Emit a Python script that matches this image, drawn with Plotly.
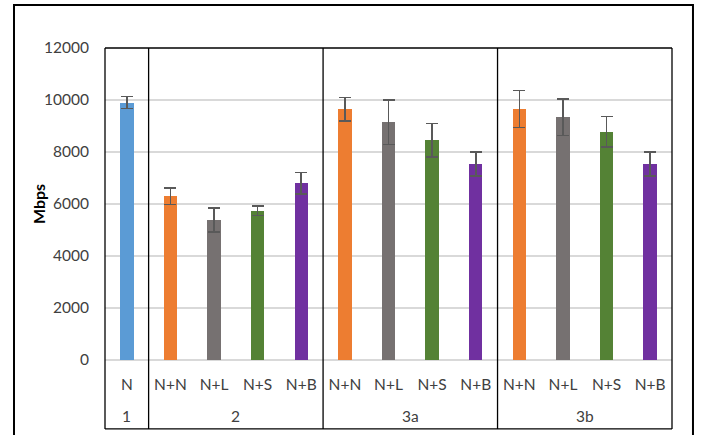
import plotly.graph_objects as go

# ---- data ----
groups = ["1", "2", "3a", "3b"]
group_labels = [["N"], ["N+N", "N+L", "N+S", "N+B"], ["N+N", "N+L", "N+S", "N+B"], ["N+N", "N+L", "N+S", "N+B"]]
group_values = [[9900], [6290, 5390, 5740, 6800], [9640, 9150, 8450, 7540], [9650, 9330, 8780, 7540]]
group_errors = [[230], [315, 465, 180, 410], [455, 860, 645, 465], [715, 700, 590, 465]]
label_colors = {"N": "#5B9BD5", "N+N": "#ED7D31", "N+L": "#767171", "N+S": "#548235", "N+B": "#7030A0"}
y_ticks = [0, 2000, 4000, 6000, 8000, 10000, 12000]
y_ticktext = ["0", "2000", "4000", "6000", "8000", "10000", "12000"]
y_title = "Mbps"

# ---- flatten ----
xs, labels, vals, errs, cols = [], [], [], [], []
group_bounds = []
i = 0
for g, labs, vs, es in zip(groups, group_labels, group_values, group_errors):
    start = i
    for l, v, e in zip(labs, vs, es):
        xs.append(i); labels.append(l); vals.append(v); errs.append(e); cols.append(label_colors[l])
        i += 1
    group_bounds.append((start, i - 1))
n = len(xs)
xmin, xmax = -0.5, n - 0.5

def px(xv):
    return (xv - xmin) / (xmax - xmin)

FONT = "Lato"
TXT = "#404040"

fig = go.Figure()
fig.add_trace(go.Bar(
    x=xs, y=vals, width=0.31,
    marker=dict(color=cols, line=dict(width=0)),
    error_y=dict(type="data", array=errs, visible=True, color="#595959", thickness=1.6, width=6),
    showlegend=False,
))

ybot = -0.221
shapes = []
line = dict(color="black", width=1.3)
shapes.append(dict(type="line", xref="paper", yref="paper", x0=0, x1=1, y0=1, y1=1, line=line))
shapes.append(dict(type="line", xref="paper", yref="paper", x0=0, x1=0, y0=1, y1=ybot, line=line))
shapes.append(dict(type="line", xref="paper", yref="paper", x0=1, x1=1, y0=1, y1=ybot, line=line))
shapes.append(dict(type="line", xref="paper", yref="paper", x0=0, x1=1, y0=ybot, y1=ybot, line=line))
for (s, e) in group_bounds[:-1]:
    xp = px(e + 0.5)
    shapes.append(dict(type="line", xref="paper", yref="paper", x0=xp, x1=xp, y0=1, y1=ybot, line=line))
shapes.append(dict(type="rect", xref="paper", yref="paper", x0=-0.1605, x1=1.037, y0=1.1378, y1=-0.3,
                   line=dict(color="black", width=2)))

annotations = []
for g, (s, e) in zip(groups, group_bounds):
    annotations.append(dict(xref="paper", yref="paper", x=px((s + e) / 2), y=-0.1795, text=g,
                            showarrow=False, xanchor="center", yanchor="middle",
                            font=dict(family=FONT, size=15.5, color=TXT)))
annotations.append(dict(xref="paper", yref="paper", x=-0.118, y=0.5, text="<b>" + y_title + "</b>",
                        textangle=-90, showarrow=False, xanchor="center", yanchor="middle",
                        font=dict(family=FONT, size=16, color="black")))

fig.update_layout(
    width=710, height=435,
    margin=dict(l=105, r=38, t=48, b=75),
    paper_bgcolor="white", plot_bgcolor="white",
    shapes=shapes, annotations=annotations,
    xaxis=dict(range=[xmin, xmax], tickmode="array", tickvals=xs, ticktext=labels,
               showgrid=False, zeroline=False, showline=False, ticks="",
               tickfont=dict(family=FONT, size=15.5, color=TXT), ticklabelstandoff=13),
    yaxis=dict(range=[0, 12000], tickmode="array", tickvals=y_ticks, ticktext=y_ticktext,
               showgrid=True, gridcolor="#D9D9D9", gridwidth=1.5,
               zeroline=True, zerolinecolor="#D9D9D9", zerolinewidth=1.5,
               showline=False, ticks="",
               tickfont=dict(family=FONT, size=15.5, color=TXT), ticklabelstandoff=15),
    bargap=0,
)

fig.write_html("out.html", config={"displayModeBar": False},
               post_script="document.body.style.margin='0';")
